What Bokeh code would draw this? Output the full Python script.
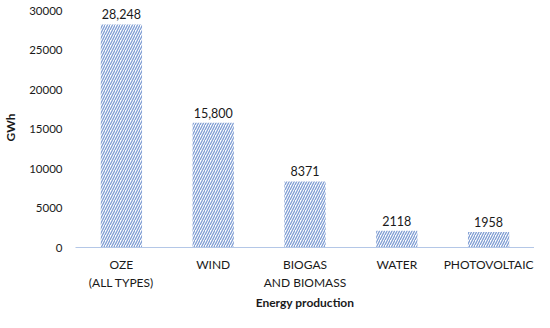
from bokeh.plotting import figure
from bokeh.models import ColumnDataSource, Range1d
from bokeh.core.properties import value
from bokeh.embed import file_html
from bokeh.resources import INLINE

categories = ["OZE\n(ALL TYPES)", "WIND", "BIOGAS\nAND BIOMASS", "WATER", "PHOTOVOLTAIC"]
values = [28248, 15800, 8371, 2118, 1958]
value_labels = ["28,248", "15,800", "8371", "2118", "1958"]
y_ticks = [0, 5000, 10000, 15000, 20000, 25000, 30000]

FONT = "Lato"

src = ColumnDataSource(dict(cat=categories, val=values, lab=value_labels))

p = figure(width=534, height=312, x_range=categories, y_range=Range1d(0, 30400),
           output_backend="svg", toolbar_location=None,
           min_border_left=10, min_border_right=0, min_border_top=7, min_border_bottom=0)
p.outline_line_color = None
p.background_fill_color = "white"
p.border_fill_color = "white"

p.vbar(x="cat", top="val", width=0.45, source=src, fill_color="white",
       line_color=None, hatch_pattern="/", hatch_color="#7f9dd3",
       hatch_scale=5, hatch_weight=1.3)

p.text(x="cat", y="val", text="lab", source=src, text_align="center",
       text_baseline="bottom", y_offset=-5, text_font=value(FONT),
       text_font_size="12.5px", text_color="#1a1a1a")

p.xgrid.grid_line_color = None
p.ygrid.grid_line_color = None

for ax in (p.xaxis[0], p.yaxis[0]):
    ax.major_tick_out = 0
    ax.major_tick_in = 0
    ax.minor_tick_out = 0
    ax.minor_tick_in = 0
    ax.major_tick_line_color = None
    ax.minor_tick_line_color = None

p.yaxis.ticker = y_ticks
p.yaxis.axis_line_color = None
p.yaxis.major_label_standoff = 13
p.yaxis.major_label_text_font = FONT
p.yaxis.major_label_text_font_size = "11.5px"
p.yaxis.major_label_text_color = "#1a1a1a"
p.yaxis.axis_label = "GWh"
p.yaxis.axis_label_text_font = FONT
p.yaxis.axis_label_text_font_style = "bold"
p.yaxis.axis_label_text_font_size = "12px"
p.yaxis.axis_label_text_color = "#1a1a1a"
p.yaxis.axis_label_standoff = 8

p.xaxis.axis_line_color = "#b4c7e7"
p.xaxis.axis_line_width = 1.2
p.xaxis.major_label_standoff = 9
p.xaxis.major_label_text_font = FONT
p.xaxis.major_label_text_font_size = "12px"
p.xaxis.major_label_text_color = "#1a1a1a"
p.xaxis.axis_label = "Energy production"
p.xaxis.axis_label_text_font = FONT
p.xaxis.axis_label_text_font_style = "bold"
p.xaxis.axis_label_text_font_size = "12px"
p.xaxis.axis_label_text_color = "#1a1a1a"
p.xaxis.axis_label_standoff = 2

open("out.html", "w").write(file_html(p, INLINE))
